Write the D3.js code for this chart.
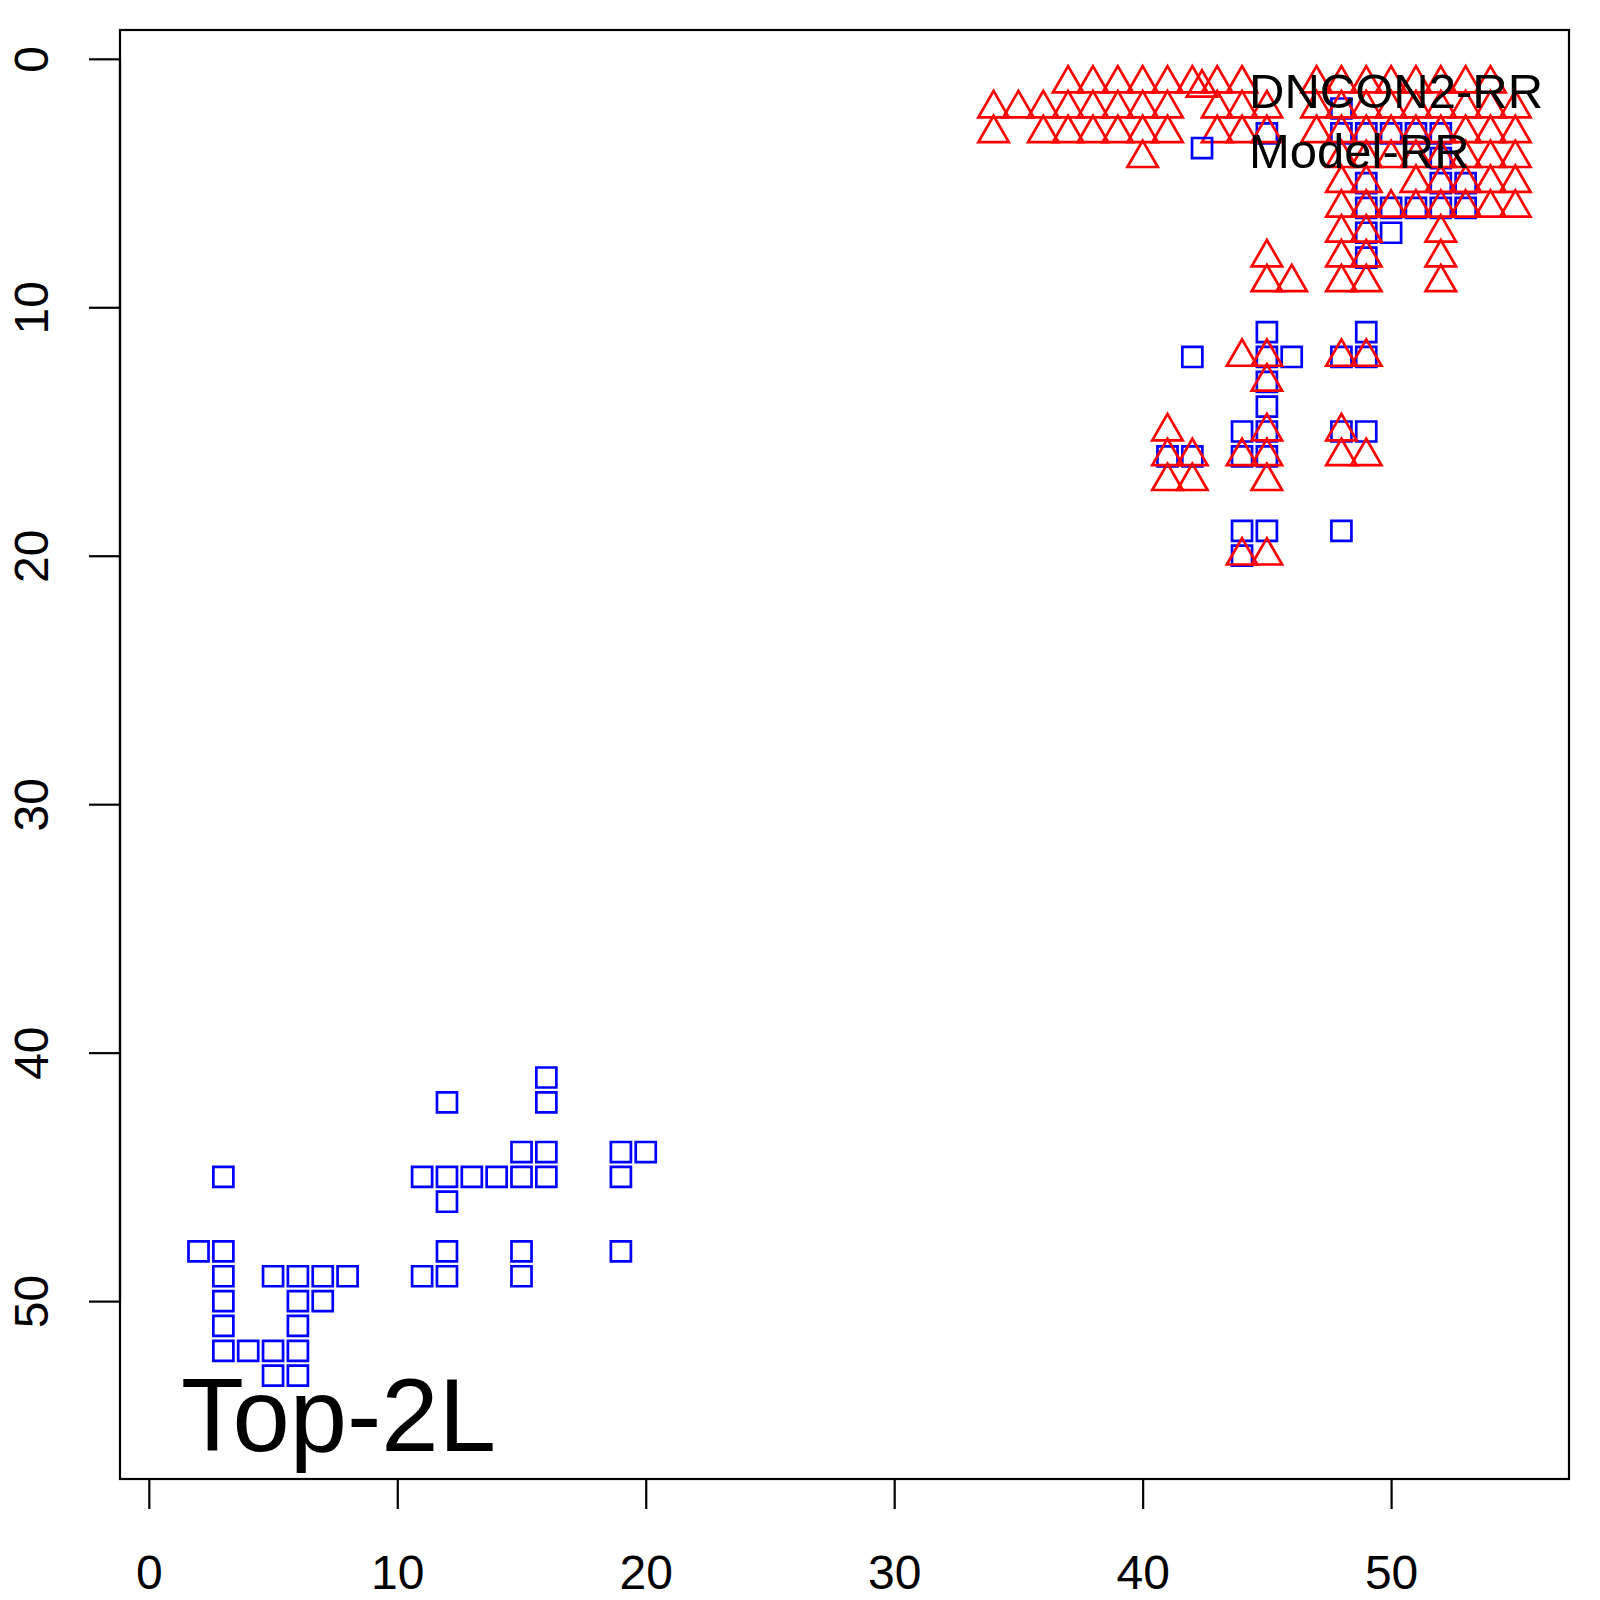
<!DOCTYPE html>
<html>
<head>
<meta charset="utf-8">
<script src="https://cdn.jsdelivr.net/npm/d3@7"></script>
<style>
  body { margin: 0; background: #fff; }
  text { font-family: "Liberation Sans", Arial, sans-serif; fill: #000; }
</style>
</head>
<body>
<svg id="chart" width="1600" height="1600"></svg>
<script>
// residue pairs [i, j]
var dncon = [
  [37,1],[38,1],[39,1],[40,1],[41,1],[42,1],[43,1],[44,1],[47,1],[48,1],[49,1],[50,1],[51,1],[52,1],[53,1],[54,1],
  [34,2],[35,2],[36,2],[37,2],[38,2],[39,2],[40,2],[41,2],[43,2],[44,2],[45,2],[47,2],[48,2],[49,2],[50,2],[51,2],[52,2],[53,2],[54,2],[55,2],
  [34,3],[36,3],[37,3],[38,3],[39,3],[40,3],[41,3],[43,3],[44,3],[45,3],[47,3],[48,3],[49,3],[50,3],[51,3],[52,3],[53,3],[54,3],[55,3],
  [40,4],[48,4],[49,4],[50,4],[51,4],[52,4],[53,4],[54,4],[55,4],
  [48,5],[49,5],[51,5],[52,5],[53,5],[54,5],[55,5],
  [48,6],[49,6],[50,6],[51,6],[52,6],[53,6],[54,6],[55,6],
  [48,7],[49,7],[52,7],
  [45,8],[48,8],[49,8],[52,8],
  [45,9],[46,9],[48,9],[49,9],[52,9],
  [44,12],[45,12],[48,12],[49,12],
  [45,13],
  [41,15],[45,15],[48,15],
  [41,16],[42,16],[44,16],[45,16],[48,16],[49,16],
  [41,17],[42,17],[45,17],
  [44,20],[45,20]
];

var model = [
  [48,2],
  [45,3],[48,3],[49,3],[50,3],[51,3],[52,3],
  [52,4],
  [49,5],[52,5],[53,5],
  [49,6],[50,6],[51,6],[52,6],[53,6],
  [49,7],[50,7],
  [49,8],
  [45,11],[49,11],
  [42,12],[45,12],[46,12],[48,12],[49,12],
  [45,13],[45,14],
  [44,15],[45,15],[48,15],[49,15],
  [41,16],[42,16],[44,16],[45,16],
  [44,19],[45,19],[48,19],
  [44,20],
  [16,41],
  [12,42],[16,42],
  [15,44],[16,44],[19,44],[20,44],
  [3,45],[11,45],[12,45],[13,45],[14,45],[15,45],[16,45],[19,45],
  [12,46],
  [2,48],[3,48],[12,48],[15,48],[19,48],
  [3,49],[5,49],[6,49],[7,49],[8,49],[11,49],[12,49],[15,49],
  [3,50],[6,50],[7,50],
  [3,51],[6,51],
  [3,52],[4,52],[5,52],[6,52],
  [5,53],[6,53]
];

var ticks = [0, 10, 20, 30, 40, 50];
var legendLabels = ["DNCON2-RR", "Model-RR"];
var title = "Top-2L";
var seqLen = 55;

var svg = d3.select("#chart");
var box = {left: 120, top: 30, right: 1569, bottom: 1479};

// R style 4% padding around 1..L
var pad = (seqLen - 1) * 0.04;
var x = d3.scaleLinear().domain([1 - pad, seqLen + pad]).range([box.left, box.right]);
var y = d3.scaleLinear().domain([1 - pad, seqLen + pad]).range([box.top, box.bottom]);

var rad = 11.3;
function squarePath(cx, cy){
  var h = rad * 0.886;
  return "M" + (cx - h) + "," + (cy - h) + "H" + (cx + h) + "V" + (cy + h) + "H" + (cx - h) + "Z";
}
function trianglePath(cx, cy){
  var r = 1.5551 * rad, w = 1.3468 * rad, b = 0.7776 * rad;
  return "M" + cx + "," + (cy - r) + "L" + (cx + w) + "," + (cy + b) + "L" + (cx - w) + "," + (cy + b) + "Z";
}

// squares first, triangles over them
svg.append("g").selectAll("path").data(model).enter().append("path")
  .attr("d", function(d){ return squarePath(x(d[0]), y(d[1])); })
  .attr("fill", "none").attr("stroke", "#0000ff").attr("stroke-width", 2.7);

svg.append("g").selectAll("path").data(dncon).enter().append("path")
  .attr("d", function(d){ return trianglePath(x(d[0]), y(d[1])); })
  .attr("fill", "none").attr("stroke", "#ff0000").attr("stroke-width", 2.7)
  .attr("stroke-linejoin", "miter");

// box
svg.append("rect").attr("x", box.left).attr("y", box.top)
  .attr("width", box.right - box.left).attr("height", box.bottom - box.top)
  .attr("fill", "none").attr("stroke", "#000").attr("stroke-width", 2.2);

// x axis
var xAxis = d3.axisBottom(x).tickValues(ticks).tickSize(30).tickSizeOuter(0);
var gx = svg.append("g").attr("transform", "translate(0," + box.bottom + ")").call(xAxis);
gx.select(".domain").attr("d", "M" + x(ticks[0]) + ",0H" + x(ticks[ticks.length - 1])).attr("stroke-width", 2.2);
gx.selectAll(".tick line").attr("stroke-width", 2.2);
gx.selectAll(".tick text").attr("font-size", 48).attr("font-family", "Liberation Sans").attr("dy", 0).attr("y", 110);

// y axis, labels rotated like R
var yAxis = d3.axisLeft(y).tickValues(ticks).tickSize(31).tickSizeOuter(0);
var gy = svg.append("g").attr("transform", "translate(" + box.left + ",0)").call(yAxis);
gy.select(".domain").attr("d", "M0," + y(ticks[0]) + "V" + y(ticks[ticks.length - 1])).attr("stroke-width", 2.2);
gy.selectAll(".tick line").attr("stroke-width", 2.2);
gy.selectAll(".tick text").attr("font-size", 48).attr("font-family", "Liberation Sans")
  .attr("x", null).attr("dy", 0).attr("text-anchor", "middle")
  .attr("transform", "translate(-72,0) rotate(-90)");

// legend, no frame
var legX = x(42.39), legY = [y(1.17), y(3.59)];
var leg = svg.append("g");
leg.append("path").attr("d", trianglePath(legX, legY[0]))
  .attr("fill", "none").attr("stroke", "#ff0000").attr("stroke-width", 2.7);
leg.append("path").attr("d", squarePath(legX, legY[1]))
  .attr("fill", "none").attr("stroke", "#0000ff").attr("stroke-width", 2.7);
leg.selectAll("text").data(legendLabels).enter().append("text")
  .attr("x", legX + 47).attr("y", function(d, i){ return legY[i] + 20; })
  .attr("font-size", 49).text(function(d){ return d; });

svg.append("text").attr("x", 181).attr("y", 1451).attr("font-size", 103).text(title);
</script>
</body>
</html>
